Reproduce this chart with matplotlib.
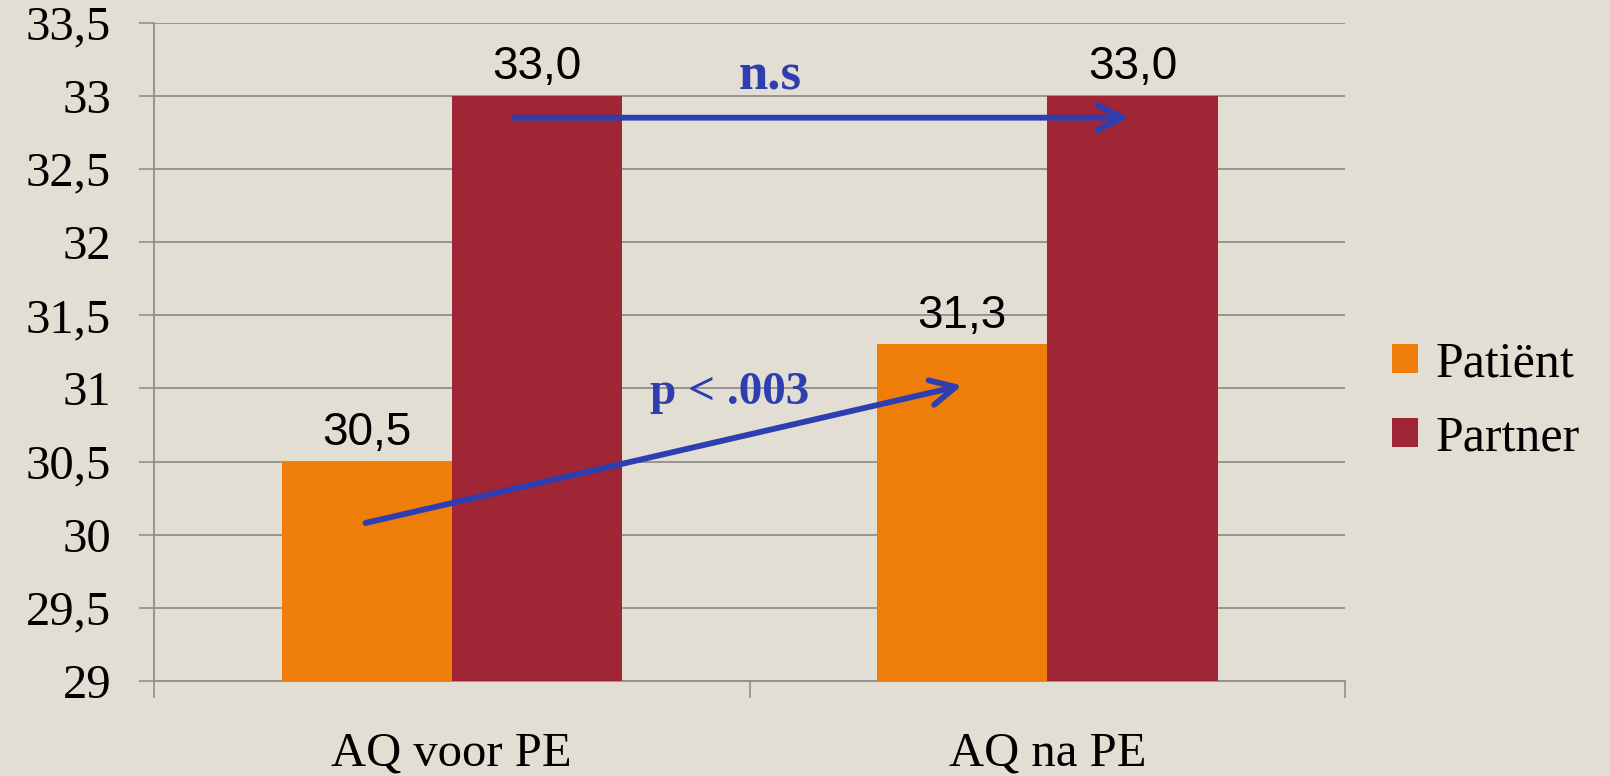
import matplotlib
matplotlib.use("Agg")
import matplotlib.pyplot as plt
import numpy as np

# Data
categories = ['AQ voor PE', 'AQ na PE']
series_names = ['Patiënt', 'Partner']
patient = [30.5, 31.3]
partner = [33.0, 33.0]
y_ticks = [29, 29.5, 30, 30.5, 31, 31.5, 32, 32.5, 33, 33.5]

bg = '#E3DED3'
c_patient = '#EF7D0A'
c_partner = '#A02535'
c_arrow = '#2E3DB0'
c_grid = '#8F8F8F'

fig = plt.figure(figsize=(16.1, 7.76), dpi=100, facecolor=bg)
ax = fig.add_axes([0.0957, 0.1224, 0.7397, 0.8485], facecolor=bg)

x = np.arange(len(categories))
w = 0.286
b1 = ax.bar(x - w / 2, patient, w, color=c_patient, label=series_names[0], zorder=3)
b2 = ax.bar(x + w / 2, partner, w, color=c_partner, label=series_names[1], zorder=3)

# Value labels above the bars, comma as decimal sign
for bars, vals in [(b1, patient), (b2, partner)]:
    for rect, v in zip(bars, vals):
        ax.annotate(f'{v:.1f}'.replace('.', ','),
                    (rect.get_x() + rect.get_width() / 2, v),
                    xytext=(0, 5), textcoords='offset points',
                    ha='center', va='bottom', fontsize=33,
                    family='Liberation Sans', color='black', zorder=5)

ax.set_xlim(-0.5, 1.5)
ax.set_ylim(29, 33.5)
ax.set_yticks(y_ticks)
ax.set_yticklabels([f'{t:g}'.replace('.', ',') for t in y_ticks],
                   family='Liberation Serif', fontsize=35)
ax.yaxis.grid(True, color=c_grid, lw=1.3, zorder=0)

# Category labels centred, ticks at the group boundaries
ax.set_xticks([-0.5, 0.5, 1.5])
ax.set_xticklabels([])
ax.set_xticks(x, minor=True)
ax.set_xticklabels(categories, minor=True, family='Liberation Serif', fontsize=35)
ax.tick_params(axis='x', which='major', length=12, width=1.2, color=c_grid, direction='out')
ax.tick_params(axis='x', which='minor', length=0, pad=36)
ax.tick_params(axis='y', length=11, width=1.2, color=c_grid, pad=20)

for s in ['top', 'right']:
    ax.spines[s].set_visible(False)
for s in ['left', 'bottom']:
    ax.spines[s].set_color(c_grid)
    ax.spines[s].set_linewidth(1.3)

# Significance arrows
arrow = dict(arrowstyle='->,head_length=0.9,head_width=0.45', color=c_arrow,
             lw=4.2, mutation_scale=20, shrinkA=0, shrinkB=0)
ax.annotate('', xy=(1.137, 32.85), xytext=(0.104, 32.85), arrowprops=arrow, zorder=6)
ax.annotate('', xy=(0.857, 31.02), xytext=(-0.145, 30.08), arrowprops=arrow, zorder=6)
ax.text(0.534, 33.04, 'n.s', color=c_arrow, fontsize=38, fontweight='bold',
        family='Liberation Serif', ha='center', va='baseline', zorder=6)
ax.text(0.466, 30.89, 'p < .003', color=c_arrow, fontsize=34, fontweight='bold',
        family='Liberation Serif', ha='center', va='baseline', zorder=6)

leg = ax.legend(loc='center left', bbox_to_anchor=(1.002, 0.425), frameon=False,
                prop={'family': 'Liberation Serif', 'size': 36},
                handlelength=0.52, handleheight=0.52, handletextpad=0.35,
                labelspacing=0.55)

fig.savefig('out.png', dpi=100, facecolor=bg)
